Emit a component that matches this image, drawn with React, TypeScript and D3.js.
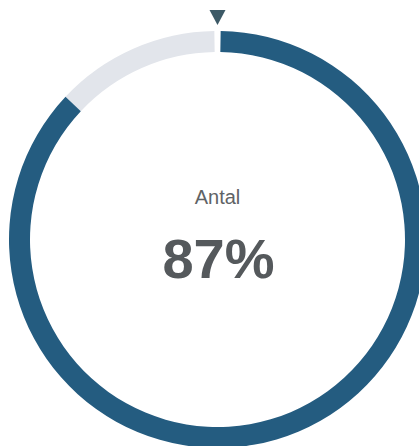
import React from "react";
import * as d3 from "d3";

const label = "Antal";
const values = [87];
const total = 100;
const colors = ["#245c80", "#e2e5eb"];

export default function App() {
  const W = 419, H = 446;
  const cx = 217.5, cy = 239.5;
  const rOuter = 208.5, rInner = 187.5;
  const pad = 3 / ((rOuter + rInner) / 2);
  const frac = values[0] / total;
  const angle = d3.scaleLinear().domain([0, total]).range([0, 2 * Math.PI]);
  const arc = d3.arc<any>().innerRadius(rInner).outerRadius(rOuter);
  const filled = arc({ startAngle: angle(0) + pad, endAngle: angle(values[0]) } as any) || "";
  const rest = arc({ startAngle: angle(values[0]), endAngle: angle(total) - pad } as any) || "";
  const tri = `M${cx - 8},10 L${cx + 8},10 L${cx},25 Z`;
  return (
    <svg width={W} height={H} style={{ position: "absolute", left: 0, top: 0, background: "#fff" }}>
      <g transform={`translate(${cx},${cy})`}>
        <path d={rest} fill={colors[1]} />
        <path d={filled} fill={colors[0]} />
      </g>
      <path d={tri} fill="#3c5966" />
      <text x={cx} y={204} textAnchor="middle" fontFamily="Liberation Sans, Arial, sans-serif" fontSize={20} fill="#5f6366">
        {label}
      </text>
      <text x={cx + 1} y={278} textAnchor="middle" fontFamily="Liberation Sans, Arial, sans-serif" fontSize={56} fontWeight="bold" fill="#55595c">
        {`${Math.round(frac * 100)}%`}
      </text>
    </svg>
  );
}
